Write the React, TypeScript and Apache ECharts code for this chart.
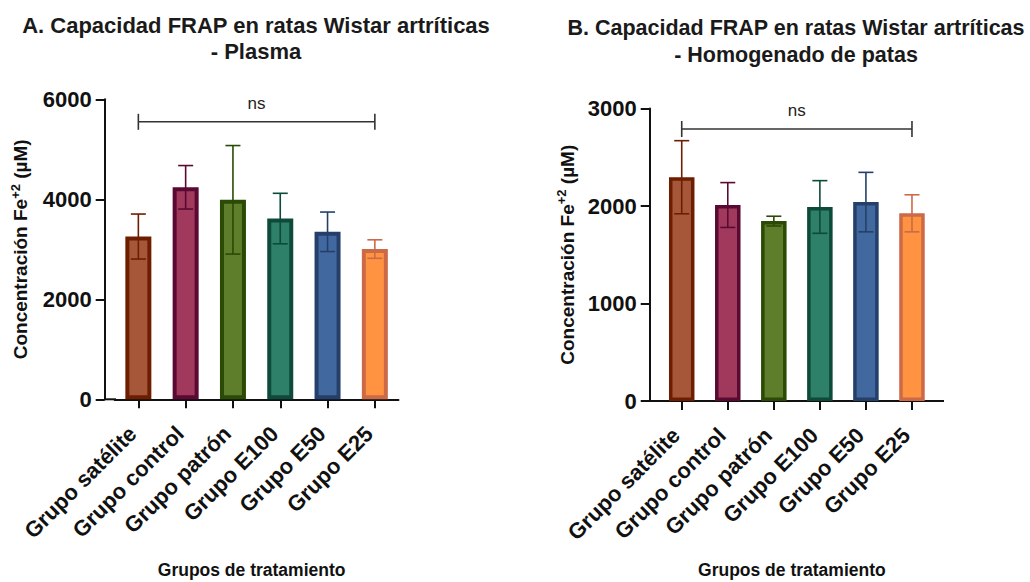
import React, { useEffect, useRef } from "react";
import * as echarts from "echarts";

const categories = ["Grupo satélite", "Grupo control", "Grupo patrón", "Grupo E100", "Grupo E50", "Grupo E25"];

const plasmaMean = [3255, 4240, 3990, 3615, 3350, 3005];
const plasmaSD = [450, 435, 1085, 505, 395, 185];
const plasmaMax = 6000;
const plasmaInterval = 2000;
const plasmaBracket = 5550;

const patasMean = [2295, 2010, 1845, 1990, 2040, 1925];
const patasSD = [375, 230, 50, 270, 305, 190];
const patasMax = 3000;
const patasInterval = 1000;
const patasBracket = 2790;

const sigLabel = "ns";
const titleA = "A. Capacidad FRAP en ratas Wistar artríticas\n- Plasma";
const titleB = "B. Capacidad FRAP en ratas Wistar artríticas\n- Homogenado de patas";
const xName = "Grupos de tratamiento";

const fillColors = ["#a6573a", "#a0395c", "#5f7e2c", "#2e8068", "#4268a0", "#ff9342"];
const borderColors = ["#6e1e00", "#5a0a32", "#2b4a05", "#0d4a3a", "#24406a", "#cc6a48"];

const FONT = '"Liberation Sans", Arial, Helvetica, sans-serif';
const INK = "#111";

function makeXAxis(gridIndex: number, nameGap: number) {
  return {
    type: "category",
    gridIndex,
    data: categories,
    axisLine: { show: true, lineStyle: { color: INK, width: 2 } },
    axisTick: { show: true, alignWithLabel: true, length: 9, lineStyle: { color: INK, width: 2 } },
    axisLabel: {
      interval: 0,
      rotate: 45,
      margin: 25,
      padding: [0, 8, 0, 0],
      color: INK,
      fontSize: 22,
      fontWeight: "bold",
      fontFamily: FONT,
    },
    name: xName,
    nameLocation: "middle",
    nameGap,
    nameTextStyle: { color: INK, fontSize: 17.5, fontWeight: "bold", fontFamily: FONT, padding: [0, 10, 0, 0] },
  };
}

function makeYAxis(gridIndex: number, max: number, interval: number, offset: number, nameGap: number) {
  return {
    type: "value",
    gridIndex,
    min: 0,
    max,
    interval,
    offset,
    splitLine: { show: false },
    axisLine: { show: true, lineStyle: { color: INK, width: 2 } },
    axisTick: { show: true, length: 9, lineStyle: { color: INK, width: 2 } },
    axisLabel: {
      color: INK,
      fontSize: 22,
      fontWeight: "bold",
      fontFamily: FONT,
      margin: 13,
      formatter: (v: number) => String(v),
    },
    name: "{m|Concentración Fe}{s|+2}{m| (µM)}",
    nameLocation: "middle",
    nameRotate: 90,
    nameGap,
    nameTextStyle: {
      rich: {
        m: { fontSize: 19, fontWeight: "bold", fontFamily: FONT, color: INK, lineHeight: 24 },
        s: { fontSize: 13, fontWeight: "bold", fontFamily: FONT, color: INK, lineHeight: 13, verticalAlign: "top" },
      },
    },
  };
}

function barSeries(idx: number, means: number[], barWidth: number, borderWidth: number) {
  return {
    type: "bar",
    xAxisIndex: idx,
    yAxisIndex: idx,
    barWidth,
    data: means.map((v, i) => ({
      value: v,
      itemStyle: { color: fillColors[i], borderColor: borderColors[i], borderWidth },
    })),
    z: 2,
  };
}

function errorSeries(idx: number, means: number[], sds: number[]) {
  return {
    type: "custom",
    xAxisIndex: idx,
    yAxisIndex: idx,
    z: 5,
    data: means.map((m, i) => [i, m, sds[i]]),
    encode: { x: 0, y: 1 },
    renderItem: (params: any, api: any) => {
      const x = api.value(0);
      const m = api.value(1);
      const s = api.value(2);
      const top = api.coord([x, m + s]);
      const bot = api.coord([x, m - s]);
      const hw = 7.5;
      const color = borderColors[params.dataIndex];
      const st = { stroke: color, lineWidth: 1.6 };
      return {
        type: "group",
        children: [
          { type: "line", shape: { x1: top[0], y1: top[1], x2: bot[0], y2: bot[1] }, style: st },
          { type: "line", shape: { x1: top[0] - hw, y1: top[1], x2: top[0] + hw, y2: top[1] }, style: st },
          { type: "line", shape: { x1: bot[0] - hw, y1: bot[1], x2: bot[0] + hw, y2: bot[1] }, style: st },
        ],
      };
    },
  };
}

function bracketSeries(idx: number, level: number) {
  return {
    type: "custom",
    xAxisIndex: idx,
    yAxisIndex: idx,
    z: 6,
    data: [[0, categories.length - 1, level]],
    encode: { x: 0, y: 2 },
    renderItem: (params: any, api: any) => {
      const a = api.coord([api.value(0), api.value(2)]);
      const b = api.coord([api.value(1), api.value(2)]);
      const st = { stroke: "#333", lineWidth: 1.6 };
      const h = 8;
      return {
        type: "group",
        children: [
          { type: "line", shape: { x1: a[0], y1: a[1], x2: b[0], y2: b[1] }, style: st },
          { type: "line", shape: { x1: a[0], y1: a[1] - h, x2: a[0], y2: a[1] + h }, style: st },
          { type: "line", shape: { x1: b[0], y1: b[1] - h, x2: b[0], y2: b[1] + h }, style: st },
          {
            type: "text",
            x: (a[0] + b[0]) / 2,
            y: a[1] - 18,
            style: {
              text: sigLabel,
              fill: "#222",
              font: `17px ${FONT}`,
              align: "center",
              verticalAlign: "middle",
              textAlign: "center",
              textVerticalAlign: "middle",
            },
          },
        ],
      };
    },
  };
}

export default function App() {
  const ref = useRef<HTMLDivElement>(null);

  useEffect(() => {
    if (!ref.current) return;
    const chart = echarts.init(ref.current, undefined, { renderer: "svg" });
    const titleStyle = (size: number) => ({
      fill: "#1a1a1a",
      font: `bold ${size}px ${FONT}`,
      align: "center",
      textAlign: "center",
      verticalAlign: "top",
      textVerticalAlign: "top",
      lineHeight: 26.5,
    });
    const axisExt = { stroke: INK, lineWidth: 2 };
    chart.setOption({
      animation: false,
      backgroundColor: "#ffffff",
      grid: [
        { left: 114.7, top: 99.3, width: 283.8, height: 300, containLabel: false, outerBoundsMode: "none" },
        { left: 658.7, top: 108.5, width: 276.3, height: 292.5, containLabel: false, outerBoundsMode: "none" },
      ],
      xAxis: [makeXAxis(0, 162), makeXAxis(1, 159.5)],
      yAxis: [makeYAxis(0, plasmaMax, plasmaInterval, 10, 72), makeYAxis(1, patasMax, patasInterval, 9, 70.5)],
      graphic: [
        { type: "text", x: 256, y: 11.75, style: { text: titleA, ...titleStyle(22) } },
        { type: "text", x: 796, y: 14.8, style: { text: titleB, ...titleStyle(21.5) } },
        { type: "line", shape: { x1: 104, y1: 399.3, x2: 116, y2: 399.3 }, style: axisExt },
        { type: "line", shape: { x1: 649, y1: 401, x2: 660, y2: 401 }, style: axisExt },
        { type: "line", shape: { x1: 934, y1: 401, x2: 944, y2: 401 }, style: axisExt },
      ],
      series: [
        barSeries(0, plasmaMean, 26, 4),
        errorSeries(0, plasmaMean, plasmaSD),
        bracketSeries(0, plasmaBracket),
        barSeries(1, patasMean, 25.5, 3.5),
        errorSeries(1, patasMean, patasSD),
        bracketSeries(1, patasBracket),
      ],
    });
    return () => chart.dispose();
  }, []);

  return (
    <div
      ref={ref}
      style={{ position: "fixed", left: 0, top: 0, width: 1030, height: 582, background: "#fff" }}
    />
  );
}
